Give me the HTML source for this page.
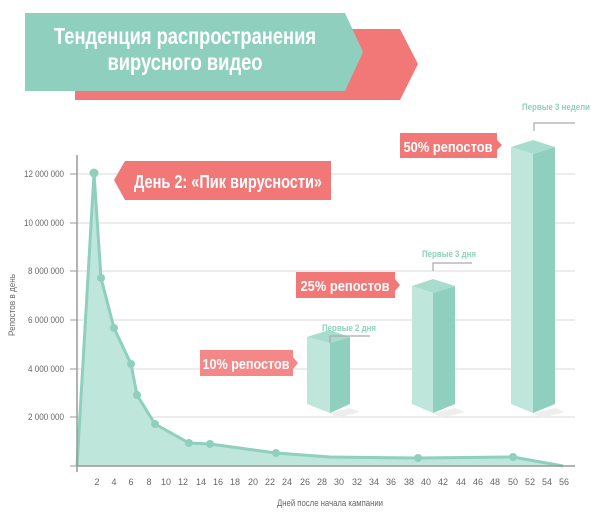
<!DOCTYPE html>
<html><head><meta charset="utf-8"><style>body{margin:0;background:#fff}svg{display:block}</style></head><body>
<svg width="600" height="519" viewBox="0 0 600 519" xmlns="http://www.w3.org/2000/svg" font-family="Liberation Sans, sans-serif">
<!-- title -->
<polygon points="75,29 400,29 418,64 400,100 75,100" fill="#f27878"/>
<polygon points="25,13 345,13 363,52 345,91 25,91" fill="#8ed0bd"/>
<text x="185" y="44" text-anchor="middle" fill="#fff" font-size="23" font-weight="bold" textLength="262" lengthAdjust="spacingAndGlyphs">Тенденция распространения</text>
<text x="185" y="70" text-anchor="middle" fill="#fff" font-size="23" font-weight="bold" textLength="155" lengthAdjust="spacingAndGlyphs">вирусного видео</text>
<!-- grid -->
<g stroke="#e6e6e6" stroke-width="1.5">
<line x1="77" y1="174" x2="575" y2="174"/><line x1="77" y1="223" x2="575" y2="223"/><line x1="77" y1="271" x2="575" y2="271"/><line x1="77" y1="320" x2="575" y2="320"/><line x1="77" y1="369" x2="575" y2="369"/><line x1="77" y1="417" x2="575" y2="417"/>
</g>
<g stroke="#999" stroke-width="1"><line x1="70" y1="174" x2="77" y2="174"/><line x1="70" y1="223" x2="77" y2="223"/><line x1="70" y1="271" x2="77" y2="271"/><line x1="70" y1="320" x2="77" y2="320"/><line x1="70" y1="369" x2="77" y2="369"/><line x1="70" y1="417" x2="77" y2="417"/><line x1="70" y1="466" x2="77" y2="466"/></g>
<g font-size="9" fill="#666" text-anchor="end">
<text x="64" y="177" textLength="40" lengthAdjust="spacingAndGlyphs">12 000 000</text>
<text x="64" y="226" textLength="40" lengthAdjust="spacingAndGlyphs">10 000 000</text>
<text x="64" y="274" textLength="36" lengthAdjust="spacingAndGlyphs">8 000 000</text>
<text x="64" y="323" textLength="36" lengthAdjust="spacingAndGlyphs">6 000 000</text>
<text x="64" y="372" textLength="36" lengthAdjust="spacingAndGlyphs">4 000 000</text>
<text x="64" y="420" textLength="36" lengthAdjust="spacingAndGlyphs">2 000 000</text>
</g>
<text transform="translate(15,305) rotate(-90)" text-anchor="middle" font-size="9" fill="#666" textLength="62" lengthAdjust="spacingAndGlyphs">Репостов в день</text>
<!-- area -->
<polygon points="77,466 94,173 101,278 114,328 131,364 137,395 155,424 189,443 210,444 276,453 330,457 418,458 513,457 563,466" fill="#bfe6db"/>
<polyline points="77,466 94,173 101,278 114,328 131,364 137,395 155,424 189,443 210,444 276,453 330,457 418,458 513,457 563,466" fill="none" stroke="#8ed0bd" stroke-width="3" stroke-linejoin="round"/>
<g fill="#8ed0bd"><circle cx="94" cy="173" r="4.5"/><circle cx="101" cy="278" r="4"/><circle cx="114" cy="328" r="4"/><circle cx="131" cy="364" r="4"/><circle cx="137" cy="395" r="4"/><circle cx="155" cy="424" r="4"/><circle cx="189" cy="443" r="4"/><circle cx="210" cy="444" r="4"/><circle cx="276" cy="453" r="4"/><circle cx="418" cy="458" r="4"/><circle cx="513" cy="457" r="4"/></g>
<!-- axes -->
<line x1="77" y1="155" x2="77" y2="472" stroke="#999" stroke-width="1.5"/>
<line x1="77" y1="466" x2="575" y2="466" stroke="#999" stroke-width="1.5"/>
<g font-size="9" fill="#666" text-anchor="middle" id="xt"></g>
<text x="330" y="506" text-anchor="middle" font-size="9" fill="#666" textLength="106" lengthAdjust="spacingAndGlyphs">Дней после начала кампании</text>
<!-- bars -->
<g>
<polygon points="330,413 350,408 360,412 338,418" fill="#eee"/>
<polygon points="307,337 330,343 330,413 307,404" fill="#bfe6db"/>
<polygon points="330,343 350,337 350,404 330,413" fill="#8ed0bd"/>
<polygon points="307,337 329,330 350,337 330,343" fill="#a8dccc"/>
<polygon points="433,413 455,408 465,412 441,418" fill="#eee"/>
<polygon points="412,286 433,293 433,413 412,404" fill="#bfe6db"/>
<polygon points="433,293 455,286 455,404 433,413" fill="#8ed0bd"/>
<polygon points="412,286 433,279 455,286 433,293" fill="#a8dccc"/>
<polygon points="533,413 555,408 565,412 541,418" fill="#eee"/>
<polygon points="511,147 533,154 533,413 511,404" fill="#bfe6db"/>
<polygon points="533,154 555,147 555,404 533,413" fill="#8ed0bd"/>
<polygon points="511,147 533,140 555,147 533,154" fill="#a8dccc"/>
</g>
<g stroke="#aaa" stroke-width="1.2" fill="none">
<polyline points="330,343 330,336 370,336"/><polyline points="433,271 433,263 472,263"/><polyline points="534,131 534,123 575,123"/>
</g>
<g font-size="9" fill="#8ed0bd" font-weight="bold" text-anchor="middle">
<text x="349" y="331" textLength="54" lengthAdjust="spacingAndGlyphs">Первые 2 дня</text>
<text x="449" y="257" textLength="54" lengthAdjust="spacingAndGlyphs">Первые 3 дня</text>
<text x="556" y="110" textLength="68" lengthAdjust="spacingAndGlyphs">Первые 3 недели</text>
</g>
<!-- labels -->
<polygon points="400,133 497,133 497,140 502,145 497,150 497,158 400,158" fill="#f27878"/>
<text x="448" y="152" text-anchor="middle" fill="#fff" font-size="15" font-weight="bold" textLength="89" lengthAdjust="spacingAndGlyphs">50% репостов</text>
<polygon points="296,272 395,272 395,279 400,285 395,291 395,298 296,298" fill="#f27878"/>
<text x="345" y="291" text-anchor="middle" fill="#fff" font-size="15" font-weight="bold" textLength="89" lengthAdjust="spacingAndGlyphs">25% репостов</text>
<polygon points="200,350 293,350 293,357 298,363 293,369 293,376 200,376" fill="#f48787"/>
<text x="246" y="369" text-anchor="middle" fill="#fff" font-size="15" font-weight="bold" textLength="87" lengthAdjust="spacingAndGlyphs">10% репостов</text>
<polygon points="125,161 331,161 331,200 125,200 114,180" fill="#f27878"/>
<text x="228" y="188" text-anchor="middle" fill="#fff" font-size="18" font-weight="bold" textLength="188" lengthAdjust="spacingAndGlyphs">День 2: «Пик вирусности»</text>
<g font-size="9" fill="#666" text-anchor="middle">
<text x="97" y="485">2</text><text x="114" y="485">4</text><text x="131" y="485">6</text><text x="149" y="485">8</text><text x="166" y="485">10</text><text x="183" y="485">12</text><text x="201" y="485">14</text><text x="218" y="485">16</text><text x="235" y="485">18</text><text x="253" y="485">20</text><text x="270" y="485">22</text><text x="287" y="485">24</text><text x="305" y="485">26</text><text x="322" y="485">28</text><text x="339" y="485">30</text><text x="357" y="485">32</text><text x="374" y="485">34</text><text x="391" y="485">36</text><text x="409" y="485">38</text><text x="426" y="485">40</text><text x="443" y="485">42</text><text x="461" y="485">44</text><text x="478" y="485">46</text><text x="495" y="485">48</text><text x="513" y="485">50</text><text x="530" y="485">52</text><text x="547" y="485">54</text><text x="564" y="485">56</text>
</g>
</svg>
</body></html>
